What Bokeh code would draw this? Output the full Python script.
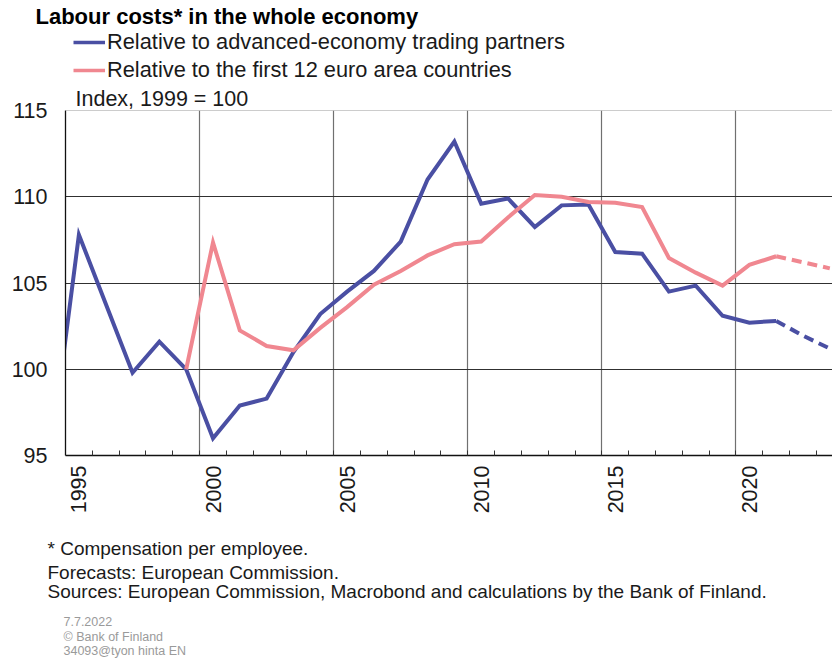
import math
from bokeh.plotting import figure
from bokeh.layouts import column
from bokeh.models import (FixedTicker, CustomJSTickFormatter, Label, Legend,
                          LegendItem, Span, Range1d)
from bokeh.embed import file_html
from bokeh.resources import INLINE

# ---- data -------------------------------------------------------------
years = list(range(1994, 2024))
blue_vals = [95.7, 107.8, 103.8, 99.8, 101.6, 100.0, 96.0, 97.9, 98.3, 101.0,
             103.2, 104.5, 105.7, 107.4, 111.0, 113.2, 109.6, 109.9, 108.25, 109.5,
             109.55, 106.8, 106.7, 104.5, 104.85, 103.1, 102.7, 102.8, 101.95, 101.2]
red_years = list(range(1999, 2024))
red_vals = [100.0, 107.35, 102.25, 101.35, 101.1, 102.4, 103.6, 104.9, 105.7, 106.6,
            107.25, 107.4, 108.8, 110.1, 110.0, 109.7, 109.65, 109.4, 106.45, 105.6,
            104.85, 106.05, 106.55, 106.2, 105.85]
last_actual = 2021
tick_years = [1995, 2000, 2005, 2010, 2015, 2020]
y_ticks = [95, 100, 105, 110, 115]

title_text = "Labour costs* in the whole economy"
blue_name = "Relative to advanced-economy trading partners"
red_name = "Relative to the first 12 euro area countries"
unit_text = "Index, 1999 = 100"
notes = ["* Compensation per employee.",
         "Forecasts: European Commission.",
         "Sources: European Commission, Macrobond and calculations by the Bank of Finland."]
small_notes = ["7.7.2022", "\u00a9 Bank of Finland", "34093@tyon hinta EN"]

BLUE = "#4a4fa3"
RED = "#f08790"
FONT = "Liberation Sans"
TXT = "#1a1a1a"
W = 832
H_TOP, H_MAIN, H_BOT = 84, 441, 133


def split(yrs, vals):
    xa = [y + 0.5 for y in yrs if y <= last_actual]
    va = [v for y, v in zip(yrs, vals) if y <= last_actual]
    xf = [y + 0.5 for y in yrs if y >= last_actual]
    vf = [v for y, v in zip(yrs, vals) if y >= last_actual]
    return xa, va, xf, vf


def text_fig(h):
    f = figure(width=W, height=h, x_range=Range1d(0, W), y_range=Range1d(0, h),
               output_backend="svg", toolbar_location=None, min_border=0,
               x_axis_location=None, y_axis_location=None, frame_align=False)
    f.grid.visible = False
    f.outline_line_color = None
    return f


def lab(f, text, x, y, size, color=TXT, style="normal"):
    f.add_layout(Label(x=x, y=y, text=text, text_font=FONT, text_font_size=size,
                       text_color=color, text_font_style=style,
                       text_baseline="middle", text_align="left"))


# ---- top: title + legend ----------------------------------------------
top = text_fig(H_TOP)
lab(top, title_text, 35, H_TOP - 16, "22px", "#000000", "bold")
nan = float("nan")
lb = top.line([nan], [nan], line_color=BLUE, line_width=3.5)
lr = top.line([nan], [nan], line_color=RED, line_width=3.5)
legend = Legend(items=[LegendItem(label=blue_name, renderers=[lb]),
                       LegendItem(label=red_name, renderers=[lr])],
                location=(73, 0), orientation="vertical",
                background_fill_alpha=0, border_line_color=None,
                padding=0, margin=0, spacing=0, glyph_width=32, glyph_height=28,
                label_height=28, label_standoff=2,
                label_text_font=FONT, label_text_font_size="21.8px",
                label_text_color=TXT)
top.add_layout(legend, "center")

# ---- main chart --------------------------------------------------------
p = figure(width=W, height=H_MAIN, x_range=Range1d(1995, 2023.6), y_range=Range1d(95, 115),
           output_backend="svg", toolbar_location=None, frame_align=False,
           min_border_left=65, min_border_top=25, min_border_bottom=70, min_border_right=0)
p.outline_line_color = None
p.title.text = unit_text
p.title.align = "left"
p.title.offset = 10
p.title.standoff = 0
p.title.text_font = FONT
p.title.text_font_size = "21.5px"
p.title.text_font_style = "normal"
p.title.text_color = TXT

p.xgrid.ticker = FixedTicker(ticks=tick_years[1:])
p.xgrid.grid_line_color = "#707070"
p.xgrid.grid_line_width = 1.2
p.ygrid.ticker = FixedTicker(ticks=y_ticks[1:-1])
p.ygrid.grid_line_color = "#303030"
p.ygrid.grid_line_width = 1.2
p.add_layout(Span(location=y_ticks[-1], dimension="width", line_color="#9a9a9a", line_width=1.2))

p.xaxis.ticker = FixedTicker(ticks=[t + 0.5 for t in tick_years],
                             minor_ticks=list(range(1996, 2024)))
p.xaxis.formatter = CustomJSTickFormatter(code="return Math.floor(tick).toString();")
p.xaxis.major_label_orientation = math.pi / 2
p.xaxis.major_tick_in = 0
p.xaxis.major_tick_out = 0
p.xaxis.minor_tick_in = 5
p.xaxis.minor_tick_out = 0
p.xaxis.minor_tick_line_color = "#333333"
p.xaxis.axis_line_color = "#111111"
p.xaxis.axis_line_width = 1.3
p.xaxis.major_label_standoff = 10
p.xaxis.major_label_text_font = FONT
p.xaxis.major_label_text_font_size = "21.5px"
p.xaxis.major_label_text_color = TXT

p.yaxis.ticker = FixedTicker(ticks=y_ticks)
p.yaxis.major_tick_in = 0
p.yaxis.major_tick_out = 0
p.yaxis.minor_tick_line_color = None
p.yaxis.axis_line_color = "#111111"
p.yaxis.axis_line_width = 1.3
p.yaxis.major_label_standoff = 18
p.yaxis.major_label_text_font = FONT
p.yaxis.major_label_text_font_size = "21.5px"
p.yaxis.major_label_text_color = TXT

bxa, bva, bxf, bvf = split(years, blue_vals)
rxa, rva, rxf, rvf = split(red_years, red_vals)
p.line(bxa, bva, line_color=BLUE, line_width=4, line_join="miter")
p.line(bxf, bvf, line_color=BLUE, line_width=4, line_dash="10 6")
p.line(rxa, rva, line_color=RED, line_width=4, line_join="miter")
p.line(rxf, rvf, line_color=RED, line_width=4, line_dash="10 6")

# ---- bottom: notes -----------------------------------------------------
bot = text_fig(H_BOT)
base = H_TOP + H_MAIN + H_BOT
for t, yy in zip(notes, [548, 572, 591]):
    lab(bot, t, 47, base - yy, "19px")
for t, yy in zip(small_notes, [621, 636, 650]):
    lab(bot, t, 63, base - yy, "12.5px", "#9a9a9a")

layout = column(top, p, bot, spacing=0)
open("out.html", "w").write(file_html(layout, INLINE))
